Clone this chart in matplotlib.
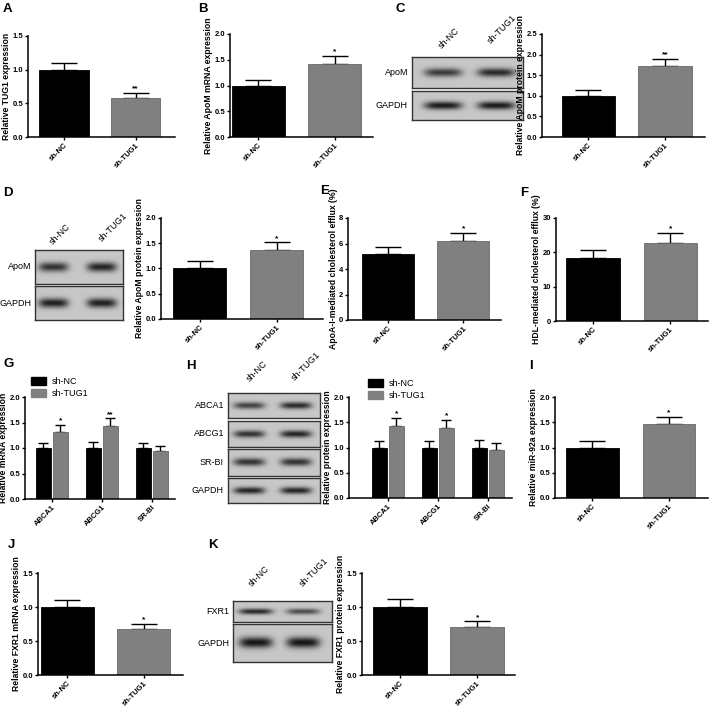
import numpy as np
import matplotlib.pyplot as plt
from matplotlib.patches import Patch

plt.rcParams["font.family"] = ["Liberation Sans", "DejaVu Sans"]
plt.rcParams["font.weight"] = "bold"
plt.rcParams["axes.labelweight"] = "bold"

W, H = 709, 706

groups = ["sh-NC", "sh-TUG1"]
genes = ["ABCA1", "ABCG1", "SR-BI"]

# bar values: means, upper error, significance
tug1_mean = [1.0, 0.58]
tug1_err = [0.10, 0.07]
tug1_sig = ["", "**"]

apom_mrna_mean = [1.0, 1.42]
apom_mrna_err = [0.10, 0.15]
apom_mrna_sig = ["", "*"]

apom_prot_c_mean = [1.0, 1.72]
apom_prot_c_err = [0.14, 0.18]
apom_prot_c_sig = ["", "**"]

apom_prot_d_mean = [1.0, 1.37]
apom_prot_d_err = [0.14, 0.15]
apom_prot_d_sig = ["", "*"]

apoa_efflux_mean = [5.2, 6.2]
apoa_efflux_err = [0.55, 0.65]
apoa_efflux_sig = ["", "*"]

hdl_efflux_mean = [18.3, 22.6]
hdl_efflux_err = [2.4, 3.1]
hdl_efflux_sig = ["", "*"]

g_nc_mean = [1.0, 1.0, 1.0]
g_nc_err = [0.10, 0.12, 0.10]
g_tug_mean = [1.32, 1.43, 0.94]
g_tug_err = [0.13, 0.15, 0.10]
g_sig = ["*", "**", ""]

h_nc_mean = [1.0, 1.0, 1.0]
h_nc_err = [0.12, 0.13, 0.14]
h_tug_mean = [1.42, 1.38, 0.96]
h_tug_err = [0.17, 0.16, 0.13]
h_sig = ["*", "*", ""]

mir92a_mean = [1.0, 1.46]
mir92a_err = [0.12, 0.15]
mir92a_sig = ["", "*"]

fxr1_mrna_mean = [1.0, 0.68]
fxr1_mrna_err = [0.10, 0.07]
fxr1_mrna_sig = ["", "*"]

fxr1_prot_mean = [1.0, 0.71]
fxr1_prot_err = [0.12, 0.08]
fxr1_prot_sig = ["", "*"]

# western blot band darkness per row (sh-NC, sh-TUG1)
c_rows = ["ApoM", "GAPDH"]
c_bands = [[0.55, 0.62], [0.68, 0.68]]
d_rows = ["ApoM", "GAPDH"]
d_bands = [[0.58, 0.64], [0.66, 0.66]]
h_rows = ["ABCA1", "ABCG1", "SR-BI", "GAPDH"]
h_bands = [[0.52, 0.62], [0.58, 0.64], [0.58, 0.58], [0.64, 0.64]]
k_rows = ["FXR1", "GAPDH"]
k_bands = [[0.62, 0.48], [0.7, 0.7]]

BLACK = "black"
GRAY = "#808080"

fig = plt.figure(figsize=(W / 100, H / 100), dpi=100)


def ax_px(l, t, r, b):
    return fig.add_axes([l / W, 1 - b / H, (r - l) / W, (b - t) / H])


def style(ax, ymax, ystep, ylabel, xlim, ticks, labels):
    ax.set_ylim(0, ymax)
    ax.set_xlim(*xlim)
    yt = np.arange(0, ymax + ystep / 2, ystep)
    ax.set_yticks(yt)
    if ystep < 1:
        ax.set_yticklabels([f"{v:.1f}" for v in yt])
    ax.set_xticks(ticks)
    ax.set_xticklabels(labels, rotation=45, ha="right", rotation_mode="anchor")
    for s in ["top", "right"]:
        ax.spines[s].set_visible(False)
    for s in ["left", "bottom"]:
        ax.spines[s].set_linewidth(1.1)
    ax.tick_params(length=2.5, width=1.0, labelsize=5.5, pad=1)
    ax.set_ylabel(ylabel, fontsize=6.2, labelpad=1)


def err_star(ax, x, m, e, sig, ymax, cap):
    ax.errorbar(x, m, yerr=[[0], [e]], fmt="none", ecolor="black",
                elinewidth=1.0, capsize=cap, capthick=1.0, zorder=1)
    if sig:
        ax.text(x, m + e + 0.005 * ymax, sig, ha="center", va="bottom",
                fontsize=6)


def bar2(rect, means, errs, sigs, ymax, ystep, ylabel, xlim):
    ax = ax_px(*rect)
    x = np.arange(2)
    ax.bar(x, means, width=0.69, color=[BLACK, GRAY],
           edgecolor=[BLACK, "#6a6a6a"], linewidth=0.6, zorder=2)
    for xi, m, e, s in zip(x, means, errs, sigs):
        err_star(ax, xi, m, e, s, ymax, 9.5)
    style(ax, ymax, ystep, ylabel, xlim, x, groups)
    return ax


def bar3(rect, nc_m, nc_e, tg_m, tg_e, sigs, ylabel, xlim, legend_pos):
    ax = ax_px(*rect)
    x = np.arange(3)
    off = 0.17
    ax.bar(x - off, nc_m, width=0.3, color=BLACK, edgecolor=BLACK,
           linewidth=0.6, zorder=2)
    ax.bar(x + off, tg_m, width=0.3, color=GRAY, edgecolor="#6a6a6a",
           linewidth=0.6, zorder=2)
    for i in range(3):
        err_star(ax, x[i] - off, nc_m[i], nc_e[i], "", 2.0, 3.5)
        err_star(ax, x[i] + off, tg_m[i], tg_e[i], sigs[i], 2.0, 3.5)
    style(ax, 2.0, 0.5, ylabel, xlim, x, genes)
    handles = [Patch(color=BLACK), Patch(color=GRAY)]
    leg = ax.legend(handles, groups, loc="upper left",
                    bbox_to_anchor=(legend_pos[0] / W, 1 - legend_pos[1] / H),
                    bbox_transform=fig.transFigure, frameon=False,
                    fontsize=6.5, handlelength=1.7, handleheight=1.0,
                    handletextpad=0.6, borderaxespad=0, borderpad=0,
                    labelspacing=0.35)
    for t in leg.get_texts():
        t.set_fontweight("normal")
    return ax


def blot(left, right, rows, labels, bands, lanes, label_x):
    xx = np.linspace(0, 1, 220)
    yy = np.linspace(0, 1, 60)
    for (t, b), name, dark in zip(rows, labels, bands):
        ax = ax_px(left, t, right, b)
        img = np.full((60, 220), 0.78)
        for c, d in zip(lanes, dark):
            hx = np.exp(-((xx - c) / 0.17) ** 4)
            vy = np.exp(-((yy - 0.5) / 0.14) ** 2)
            img -= d * np.outer(vy, hx)
        ax.imshow(img, cmap="gray", vmin=0, vmax=1, aspect="auto",
                  interpolation="bilinear", extent=[0, 1, 0, 1])
        ax.set_xticks([])
        ax.set_yticks([])
        for s in ax.spines.values():
            s.set_linewidth(1.0)
            s.set_color("#333333")
        fig.text(label_x / W, 1 - (t + b) / 2 / H, name, ha="right",
                 va="center", fontsize=6.5, fontweight="normal")


def col_labels(pos):
    for (x, y), name in zip(pos, groups):
        fig.text(x / W, 1 - y / H, name, rotation=45, ha="left", va="bottom",
                 fontsize=6.5, fontweight="normal")


def panel_label(x, y, s):
    fig.text(x / W, 1 - y / H, s, ha="left", va="top", fontsize=9.5,
             fontweight="bold")


# row 1
bar2((28, 36, 175, 137), tug1_mean, tug1_err, tug1_sig, 1.5, 0.5,
     "Relative TUG1 expression", (-0.5, 1.55))
bar2((230, 34, 373, 137), apom_mrna_mean, apom_mrna_err, apom_mrna_sig, 2.0, 0.5,
     "Relative ApoM mRNA expression", (-0.37, 1.5))
blot(412, 523, [(57, 88), (91, 120)], c_rows, c_bands, [0.28, 0.76], 408)
col_labels([(437, 50), (486, 45)])
bar2((542, 34, 705, 137), apom_prot_c_mean, apom_prot_c_err, apom_prot_c_sig,
     2.5, 0.5, "Relative ApoM protein expression", (-0.6, 1.52))

# row 2
blot(35, 123, [(250, 284), (286, 320)], d_rows, d_bands, [0.21, 0.76], 31)
col_labels([(48, 246), (97, 243)])
bar2((161, 218, 323, 319), apom_prot_d_mean, apom_prot_d_err, apom_prot_d_sig,
     2.0, 0.5, "Relative ApoM protein expression", (-0.5, 1.6))
bar2((348, 218, 501, 320), apoa_efflux_mean, apoa_efflux_err, apoa_efflux_sig,
     8, 2, "ApoA-I-mediated cholesterol efflux (%)", (-0.53, 1.5))
bar2((556, 218, 708, 321), hdl_efflux_mean, hdl_efflux_err, hdl_efflux_sig,
     30, 10, "HDL-mediated cholesterol efflux (%)", (-0.48, 1.49))

# row 3
bar3((25, 397, 175, 499), g_nc_mean, g_nc_err, g_tug_mean, g_tug_err, g_sig,
     "Relative mRNA expression", (-0.54, 2.47), (31, 377))
blot(228, 320, [(393, 418), (421, 447), (449, 476), (478, 503)], h_rows,
     h_bands, [0.23, 0.74], 224)
col_labels([(245, 383), (290, 382)])
bar3((349, 397, 512, 498), h_nc_mean, h_nc_err, h_tug_mean, h_tug_err, h_sig,
     "Relative protein expression", (-0.77, 2.48), (368, 379))
bar2((555, 397, 708, 498), mir92a_mean, mir92a_err, mir92a_sig, 2.0, 0.5,
     "Relative miR-92a expression", (-0.49, 1.51))

# row 4
bar2((38, 573, 183, 675), fxr1_mrna_mean, fxr1_mrna_err, fxr1_mrna_sig, 1.5, 0.5,
     "Relative FXR1 mRNA expression", (-0.38, 1.51))
blot(233, 332, [(601, 622), (624, 662)], k_rows, k_bands, [0.23, 0.71], 229)
col_labels([(247, 588), (298, 588)])
bar2((362, 573, 515, 675), fxr1_prot_mean, fxr1_prot_err, fxr1_prot_sig, 1.5, 0.5,
     "Relative FXR1 protein expression", (-0.49, 1.49))

for x, y, s in [(3, 3, "A"), (198, 3, "B"), (396, 3, "C"), (3, 187, "D"),
                (320, 185, "E"), (520, 187, "F"), (3, 358, "G"),
                (186, 360, "H"), (529, 360, "I"), (8, 539, "J"),
                (208, 539, "K")]:
    panel_label(x, y, s)

fig.savefig("out.png", dpi=100)
